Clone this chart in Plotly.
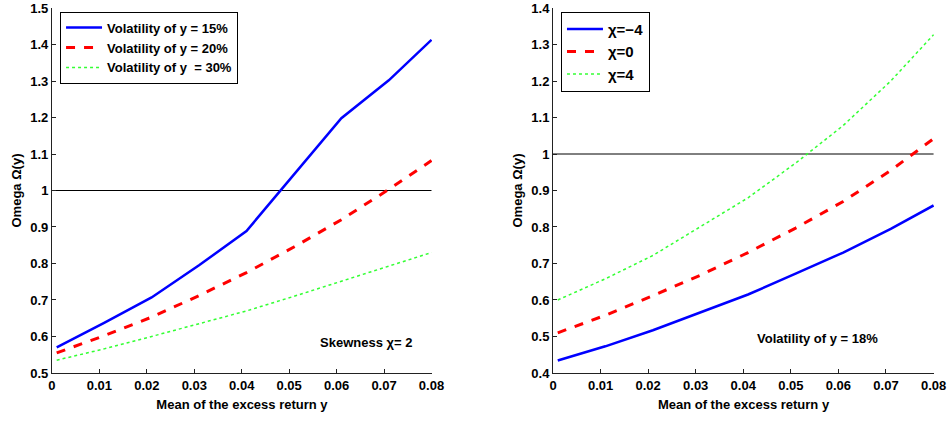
import plotly.graph_objects as go

# ---- data ----
x_mean = [0.001, 0.011, 0.021, 0.031, 0.041, 0.051, 0.061, 0.071, 0.08]

# left panel: skewness chi = 2
vol15 = [0.570, 0.637, 0.707, 0.795, 0.889, 1.045, 1.198, 1.302, 1.413]
vol20 = [0.555, 0.602, 0.653, 0.712, 0.775, 0.845, 0.920, 1.003, 1.082]
vol30 = [0.535, 0.566, 0.600, 0.634, 0.670, 0.710, 0.752, 0.793, 0.830]

# right panel: volatility = 18%
chi_m4 = [0.434, 0.473, 0.517, 0.565, 0.615, 0.672, 0.730, 0.795, 0.859]
chi_0 = [0.510, 0.558, 0.612, 0.668, 0.730, 0.797, 0.870, 0.955, 1.042]
chi_4 = [0.600, 0.658, 0.722, 0.800, 0.880, 0.975, 1.078, 1.200, 1.327]

ref_x = [0, 0.08]
ref_y = [1, 1]

x_ticks = [0, 0.01, 0.02, 0.03, 0.04, 0.05, 0.06, 0.07, 0.08]
x_ticktext = ["0", "0.01", "0.02", "0.03", "0.04", "0.05", "0.06", "0.07", "0.08"]
yl_ticks = [0.5, 0.6, 0.7, 0.8, 0.9, 1.0, 1.1, 1.2, 1.3, 1.4, 1.5]
yl_text = ["0.5", "0.6", "0.7", "0.8", "0.9", "1", "1.1", "1.2", "1.3", "1.4", "1.5"]
yr_ticks = [0.4, 0.5, 0.6, 0.7, 0.8, 0.9, 1.0, 1.1, 1.2, 1.3, 1.4]
yr_text = ["0.4", "0.5", "0.6", "0.7", "0.8", "0.9", "1", "1.1", "1.2", "1.3", "1.4"]

FONT = "Liberation Sans, Arial, sans-serif"
FS = 13
BLUE = "#0000ff"
RED = "#ff0000"
GREEN = "#33ff33"
EPS = 1e-4

fig = go.Figure()

# left panel
fig.add_trace(go.Scatter(x=ref_x, y=ref_y, mode="lines", line=dict(color="black", width=1),
                         showlegend=False, xaxis="x", yaxis="y", hoverinfo="skip"))
fig.add_trace(go.Scatter(x=x_mean, y=vol15, mode="lines", name="<b>Volatility of y = 15%</b>",
                         line=dict(color=BLUE, width=2.5), xaxis="x", yaxis="y", legend="legend"))
fig.add_trace(go.Scatter(x=x_mean, y=vol20, mode="lines", name="<b>Volatility of y = 20%</b>",
                         line=dict(color=RED, width=3, dash="dash"), xaxis="x", yaxis="y", legend="legend"))
fig.add_trace(go.Scatter(x=x_mean, y=vol30, mode="lines", name="<b>Volatility of y  = 30%</b>",
                         line=dict(color=GREEN, width=1.5, dash="dot"), xaxis="x", yaxis="y", legend="legend"))

# right panel
fig.add_trace(go.Scatter(x=ref_x, y=ref_y, mode="lines", line=dict(color="black", width=1),
                         showlegend=False, xaxis="x2", yaxis="y2", hoverinfo="skip"))
fig.add_trace(go.Scatter(x=x_mean, y=chi_m4, mode="lines", name="<b>χ=−4</b>",
                         line=dict(color=BLUE, width=2.5), xaxis="x2", yaxis="y2", legend="legend2"))
fig.add_trace(go.Scatter(x=x_mean, y=chi_0, mode="lines", name="<b>χ=0</b>",
                         line=dict(color=RED, width=3, dash="dash"), xaxis="x2", yaxis="y2", legend="legend2"))
fig.add_trace(go.Scatter(x=x_mean, y=chi_4, mode="lines", name="<b>χ=4</b>",
                         line=dict(color=GREEN, width=1.5, dash="dot"), xaxis="x2", yaxis="y2", legend="legend2"))

axis_common = dict(showline=True, linecolor="#222222", linewidth=1, ticks="inside", ticklen=4,
                   tickcolor="#222222", showgrid=False, zeroline=False, mirror=False,
                   ticklabeloverflow="allow", automargin=False,
                   tickfont=dict(family=FONT, size=FS, color="black"))

title_font = dict(family=FONT, size=FS, color="black")
legend_font = dict(family=FONT, size=FS, color="black")

fig.update_layout(
    width=950, height=423,
    margin=dict(l=0, r=0, t=8, b=50),
    plot_bgcolor="white", paper_bgcolor="white",
    font=dict(family=FONT, color="black"),
    xaxis=dict(domain=[0.0547, 0.4547], range=[0, 0.08 + EPS], tickvals=x_ticks,
               ticktext=["<b>%s</b>" % t for t in x_ticktext],
               title=dict(text="<b>Mean of the excess return y</b>", font=title_font, standoff=8),
               anchor="y", **axis_common),
    yaxis=dict(domain=[0, 1], range=[0.5 - EPS, 1.5 + EPS], tickvals=yl_ticks,
               ticktext=["<b>%s</b>" % t for t in yl_text],
               title=dict(text="<b>Omega Ω(y)</b>", font=title_font, standoff=5),
               anchor="x", **axis_common),
    xaxis2=dict(domain=[0.5821, 0.9832], range=[0, 0.08 + EPS], tickvals=x_ticks,
                ticktext=["<b>%s</b>" % t for t in x_ticktext],
                title=dict(text="<b>Mean of the excess return y</b>", font=title_font, standoff=8),
                anchor="y2", **axis_common),
    yaxis2=dict(domain=[0, 1], range=[0.4 - EPS, 1.4 + EPS], tickvals=yr_ticks,
                ticktext=["<b>%s</b>" % t for t in yr_text],
                title=dict(text="<b>Omega Ω(y)</b>", font=title_font, standoff=5),
                anchor="x2", **axis_common),
    legend=dict(x=0.0632, y=0.99, xanchor="left", yanchor="top", bordercolor="black", borderwidth=1,
                bgcolor="white", font=legend_font, tracegroupgap=0, itemwidth=36),
    legend2=dict(x=0.5905, y=0.99, xanchor="left", yanchor="top", bordercolor="black", borderwidth=1,
                 bgcolor="white", font=dict(family=FONT, size=15, color="black"), tracegroupgap=0,
                 itemwidth=36),
    annotations=[
        dict(text="<b>Skewness χ= 2</b>", x=0.0662, y=0.584, xref="x", yref="y", showarrow=False,
             xanchor="center", yanchor="middle", font=dict(family=FONT, size=FS, color="black")),
        dict(text="<b>Volatility of y = 18%</b>", x=0.0556, y=0.495, xref="x2", yref="y2", showarrow=False,
             xanchor="center", yanchor="middle", font=dict(family=FONT, size=FS, color="black")),
    ],
)

fig.write_html("out.html")
